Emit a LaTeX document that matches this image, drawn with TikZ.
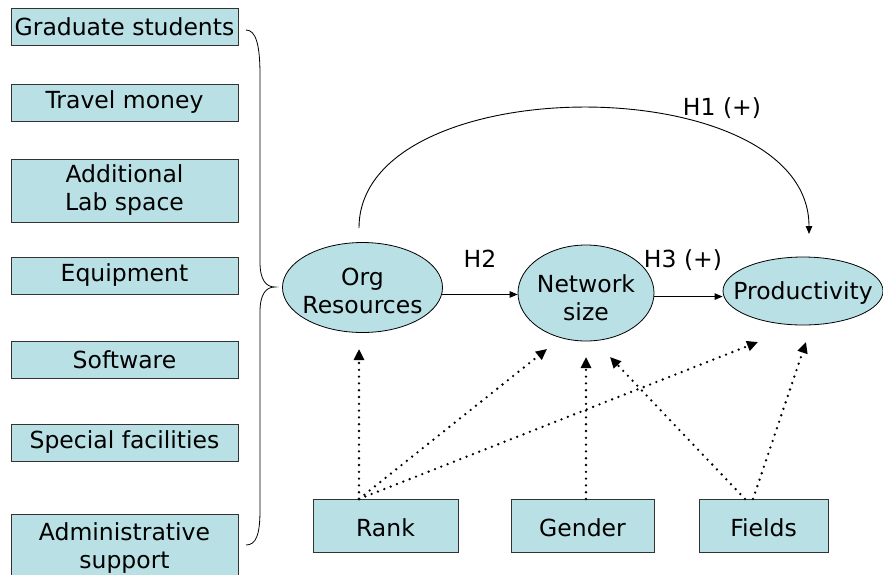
\documentclass[tikz,border=0pt]{standalone}
\usepackage{fontspec}
\setmainfont{DejaVu Sans}
\usetikzlibrary{shapes.geometric,arrows.meta}
\definecolor{boxfill}{RGB}{185,224,228}
\begin{document}
\begin{tikzpicture}[x=1pt,y=-1pt,
  every node/.style={font=\fontsize{23.5}{28}\selectfont},
  box/.style={draw=black!80,line width=0.8pt,fill=boxfill,align=center,inner sep=0pt},
  leftbox/.style={box,minimum width=227pt,minimum height=37pt},
  botbox/.style={box,minimum height=53pt},
  oval/.style={ellipse,draw=black,line width=0.8pt,fill=boxfill,align=center,inner sep=-40pt},
  solidarr/.style={line width=0.9pt,-{Triangle[length=8pt,width=6.5pt]}},
  dotarr/.style={line width=2.6pt,line cap=round,dash pattern=on 0pt off 6.8pt,-{Triangle[length=11pt,width=10pt]}},
  lbl/.style={inner sep=0pt}]
\useasboundingbox (0,0) rectangle (883,574);
% left column
\node[leftbox] (gs) at (124.5,26.5) {Graduate students};
\node[leftbox] (tm) at (124.5,102.5) {Travel money};
\node[leftbox,minimum height=63pt] (al) at (124.5,190.5) {Additional\\Lab space};
\node[leftbox] (eq) at (124.5,275.5) {Equipment};
\node[leftbox] (sw) at (124.5,359.5) {Software};
\node[leftbox] (sf) at (124.5,442.5) {Special facilities};
\node[leftbox,minimum height=63pt] (as) at (124.5,545.5) {\rule{0pt}{22pt}Administrative\\support};
% brace
\draw[line width=0.8pt] (246,30) .. controls (256,30) and (260,45) .. (260,75)
  -- (260,262) .. controls (260,280) and (266,287) .. (275,287)
  .. controls (266,287) and (260,294) .. (260,312)
  -- (260,510) .. controls (260,535) and (256,545) .. (246,545);
% ellipses
\node[oval,minimum width=160pt,minimum height=90pt] (org) at (362.5,287.5) {\rule{0pt}{23.5pt}Org\\Resources};
\node[oval,minimum width=136pt,minimum height=96pt] (net) at (586,293) {\rule{0pt}{28pt}Network\\size};
\node[oval,minimum width=160pt,minimum height=68pt] (prod) at (803,291) {\rule{0pt}{22pt}Productivity};
% bottom boxes
\node[botbox,minimum width=145pt] (rank) at (385.5,525.5) {\rule{0pt}{22pt}Rank};
\node[botbox,minimum width=143pt] (gender) at (582.5,525.5) {\rule{0pt}{22pt}Gender};
\node[botbox,minimum width=129pt] (fields) at (763.5,525.5) {\rule{0pt}{22pt}Fields};
% solid arrows
\draw[solidarr] (org.-5) -- (org.-5 -| net.west);
\draw[solidarr] (net.-3) -- (net.-3 -| prod.west);
\coordinate (h1s) at (359,228);
\coordinate (h1e) at (809,234);
\draw[solidarr] (h1s) .. controls (359,67) and (809,67) .. (h1e);
% labels
\node[lbl] (h2) at (480,259) {H2};
\node[lbl] (h3) at (683,260) {H3 (+)};
\node[lbl] (h1) at (722,108) {H1 (+)};
% dotted arrows
\coordinate (rk) at (359,499);
\coordinate (gd) at (586,499);
\coordinate (fa) at (745,499);
\coordinate (fb) at (753,499);
\coordinate (orgin) at (359,349);
\coordinate (netinA) at (547,349);
\coordinate (netinB) at (586,357);
\coordinate (netinC) at (610,357);
\coordinate (prodinA) at (758,342);
\coordinate (prodinB) at (806,342);
\draw[dotarr] (rk) -- (orgin);
\draw[dotarr] (rk) -- (netinA);
\draw[dotarr] (rk) -- (prodinA);
\draw[dotarr] (gd) -- (netinB);
\draw[dotarr] (fa) -- (netinC);
\draw[dotarr] (fb) -- (prodinB);
\end{tikzpicture}
\end{document}
